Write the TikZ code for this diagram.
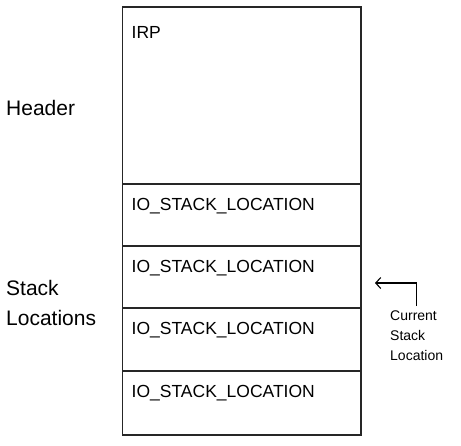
\documentclass[tikz,border=0pt]{standalone}
\usepackage{fontspec}
\setmainfont{Liberation Sans}
\usetikzlibrary{positioning,arrows.meta}

\tikzset{
  slbox/.style={draw=black!85, line width=1.3pt, rectangle, outer sep=0pt, inner sep=0pt, minimum width=238.5pt},
  boxtext/.style={anchor=base west, xshift=9pt, yshift=-26pt, inner sep=0pt, font=\fontsize{17.5}{20}\selectfont},
  sidetext/.style={anchor=base west, inner sep=0pt, align=left, font=\fontsize{21}{30}\selectfont},
  curtext/.style={anchor=base west, inner sep=0pt, align=left, font=\fontsize{14}{20}\selectfont},
  curarrow/.style={line width=1.1pt, -{Straight Barb[length=5pt,width=11pt]}},
}

\begin{document}
\begin{tikzpicture}[x=1pt,y=-1pt]
\useasboundingbox (0,0) rectangle (461,445);

% The IRP header and its stack locations
\node[slbox, minimum height=177pt, anchor=north west, label={[boxtext,yshift=-5pt]north west:IRP}] (irp) at (122.5,7) {};
\foreach \i/\prev/\h in {1/irp/62,2/sl1/62,3/sl2/63,4/sl3/64}{
  \node[slbox, minimum height=\h pt, below=0pt of \prev, label={[boxtext]north west:IO\_STACK\_LOCATION}] (sl\i) {};
}

% Side labels (base is the last line)
\node[sidetext] (hdr) at (6,115) {Header};
\node[sidetext] (stk) at (6,325) {Stack\\Locations};

% The current one
\node[curtext] (cur) at (390,360) {Current\\Stack\\Location};
\draw[curarrow] ([yshift=4pt]cur.north) |- ([xshift=14pt,yshift=-6pt]sl2.east);

\end{tikzpicture}
\end{document}
